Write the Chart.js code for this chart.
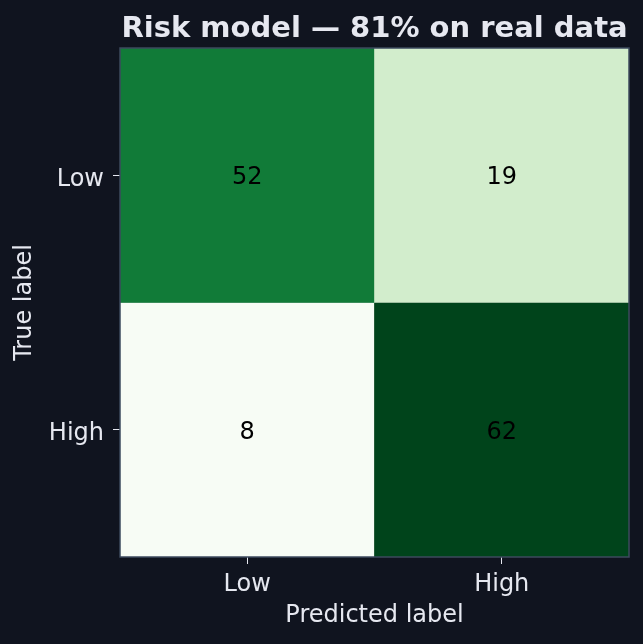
<!DOCTYPE html>
<html>
<head>
<meta charset="utf-8">
<script src="https://cdn.jsdelivr.net/npm/chart.js@4.4.1/dist/chart.umd.min.js"></script>
<style>
  html, body { margin: 0; padding: 0; background: #10141f; }
  #wrap { width: 643px; height: 644px; }
</style>
</head>
<body>
<div id="wrap"><canvas id="cm"></canvas></div>
<script>
// confusion matrix data
const predictedLabels = ["Low", "High"];
const trueLabels = ["Low", "High"];
const rowLow = [52, 19];
const rowHigh = [8, 62];
const titleText = "Risk model \u2014 81% on real data";

const textColor = "#e6e8f0";
const borderColor = "#3d4a5e";

// matplotlib "Greens" stops
const greens = ["#f7fcf5", "#e5f5e0", "#c7e9c0", "#a1d99b", "#74c476", "#41ab5d", "#238b45", "#006d2c", "#00441b"];
const allVals = rowLow.concat(rowHigh);
const vMin = Math.min(...allVals);
const vMax = Math.max(...allVals);

function hexToRgb(h) {
  return [parseInt(h.slice(1, 3), 16), parseInt(h.slice(3, 5), 16), parseInt(h.slice(5, 7), 16)];
}
function greenFor(v) {
  const t = (v - vMin) / (vMax - vMin);
  const pos = t * (greens.length - 1);
  const i = Math.min(Math.floor(pos), greens.length - 2);
  const f = pos - i;
  const a = hexToRgb(greens[i]), b = hexToRgb(greens[i + 1]);
  const c = a.map((x, k) => Math.round(x + (b[k] - x) * f));
  return "rgb(" + c.join(",") + ")";
}

// row index 0 = Low (top), 1 = High (bottom) -> y span on a 0..2 axis
const rows = [rowLow, rowHigh];
const datasets = rows.map((vals, r) => {
  const lo = trueLabels.length - 1 - r;
  return {
    label: trueLabels[r],
    data: vals.map(() => [lo, lo + 1]),
    counts: vals,
    backgroundColor: vals.map(greenFor),
    borderWidth: 0,
    grouped: false,
    barPercentage: 1,
    categoryPercentage: 1
  };
});

const cellText = {
  id: "cellText",
  afterDatasetsDraw(chart) {
    const ctx = chart.ctx;
    ctx.save();
    ctx.font = "24px 'DejaVu Sans'";
    ctx.fillStyle = "#000000";
    ctx.textAlign = "center";
    ctx.textBaseline = "middle";
    chart.data.datasets.forEach((ds, i) => {
      chart.getDatasetMeta(i).data.forEach((bar, j) => {
        const p = bar.getProps(["x", "y", "base"], true);
        ctx.fillText(String(ds.counts[j]), p.x, (p.y + p.base) / 2 + 3);
      });
    });
    // frame around the plot
    const a = chart.chartArea;
    ctx.strokeStyle = borderColor;
    ctx.lineWidth = 1.5;
    ctx.strokeRect(a.left, a.top, a.right - a.left, a.bottom - a.top);
    // title centred over the axes
    ctx.font = "bold 29px 'DejaVu Sans'";
    ctx.fillStyle = textColor;
    ctx.textBaseline = "alphabetic";
    ctx.fillText(titleText, (a.left + a.right) / 2, 37);
    ctx.restore();
  }
};

new Chart(document.getElementById("cm"), {
  type: "bar",
  data: { labels: predictedLabels, datasets: datasets },
  plugins: [cellText],
  options: {
    responsive: true,
    maintainAspectRatio: false,
    animation: false,
    layout: { padding: { left: 0, top: 48, right: 14, bottom: 0 } },
    plugins: { legend: { display: false }, tooltip: { enabled: false } },
    scales: {
      x: {
        grid: { drawOnChartArea: false, offset: false, color: textColor, tickLength: 7, tickWidth: 1 },
        border: { display: false },
        ticks: { color: textColor, font: { family: "DejaVu Sans", size: 24 }, padding: 6 },
        title: { display: true, text: "Predicted label", color: textColor, font: { family: "DejaVu Sans", size: 24 }, padding: { top: 0, bottom: 14 } },
        afterFit(scale) { scale.height = 87; }
      },
      y: {
        min: 0,
        max: 2,
        grid: { drawOnChartArea: false, color: textColor, tickLength: 7, tickWidth: 1 },
        border: { display: false },
        afterBuildTicks(scale) {
          scale.ticks = trueLabels.map((_, r) => ({ value: trueLabels.length - 1 - r + 0.5 }));
        },
        ticks: {
          color: textColor,
          // tiny line height + empty first line nudges the label down to sit optically centred
          font: { family: "DejaVu Sans", size: 24, lineHeight: 0.34 },
          padding: 9,
          callback(v) { return ["", trueLabels[trueLabels.length - 1 - Math.floor(v)]]; }
        },
        title: { display: true, text: "True label", color: textColor, font: { family: "DejaVu Sans", size: 24 }, padding: { top: 10, bottom: 0 } },
        afterFit(scale) { scale.width = 120; }
      }
    }
  }
});
</script>
</body>
</html>
